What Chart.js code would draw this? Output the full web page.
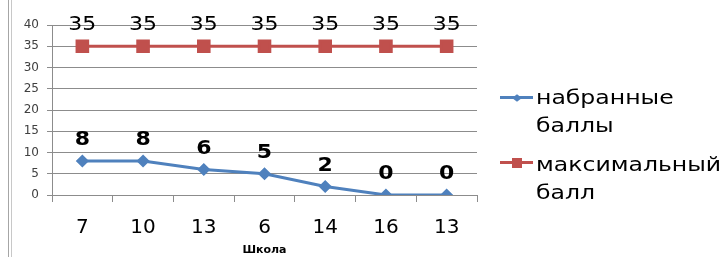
<!DOCTYPE html>
<html>
<head>
<meta charset="utf-8">
<script src="https://cdn.jsdelivr.net/npm/chart.js@4/dist/chart.umd.min.js"></script>
<style>
  html, body { margin: 0; padding: 0; background: #fff; }
  #wrap { position: relative; width: 725px; height: 257px; overflow: hidden; }
  #frame { position: absolute; left: 8px; top: 0; width: 2px; height: 257px;
           border-left: 1px solid #a6a6a6; border-right: 1px solid #c8c8c8; }
  #legend { position: absolute; left: 500px; top: 0; font-family: "DejaVu Sans", sans-serif; }
  .item { position: absolute; left: 0; width: 230px; }
  .mark { position: absolute; left: 0; width: 33px; height: 3px; }
  .mark .dot { position: absolute; left: 50%; top: 50%; }
  .txt { position: absolute; left: 36px; top: 0; width: 150px; font-size: 19px; line-height: 28px;
         color: #000; transform: scaleX(1.24); transform-origin: left top; }
</style>
</head>
<body>
<div id="wrap">
  <div id="frame"></div>
  <canvas id="chart" width="725" height="257"></canvas>
  <div id="legend"></div>
</div>
<script>
// Schools on the x axis and the two series.
const schools = ['7', '10', '13', '6', '14', '16', '13'];
const scored = [8, 8, 6, 5, 2, 0, 0];
const maxScore = [35, 35, 35, 35, 35, 35, 35];
const seriesNames = ['набранные баллы', 'максимальный балл'];
const axisTitle = 'Школа';

const BLUE = '#4f81bd';
const RED = '#c0504d';
const GRID = '#8c8c8c';

// Draws the value above each point (bold for scored, regular for max).
const valueLabels = {
  id: 'valueLabels',
  afterDatasetsDraw(chart) {
    const ctx = chart.ctx;
    chart.data.datasets.forEach((ds, i) => {
      const meta = chart.getDatasetMeta(i);
      meta.data.forEach((pt, j) => {
        ctx.save();
        ctx.font = (ds.labelBold ? 'bold ' : '') + '20px "DejaVu Sans"';
        ctx.fillStyle = '#000';
        ctx.textAlign = 'center';
        ctx.textBaseline = 'alphabetic';
        ctx.translate(pt.x, pt.y - 16);
        ctx.scale(1.1, 1);
        ctx.fillText(String(ds.data[j]), 0, 0);
        ctx.restore();
      });
    });
  }
};

const chart = new Chart(document.getElementById('chart'), {
  type: 'line',
  data: {
    labels: schools,
    datasets: [
      { label: seriesNames[0], data: scored, borderColor: BLUE, backgroundColor: BLUE, borderWidth: 3,
        pointStyle: 'rectRot', pointRadius: 4.5, pointHoverRadius: 4.5, labelBold: true },
      { label: seriesNames[1], data: maxScore, borderColor: RED, backgroundColor: RED, borderWidth: 3,
        pointStyle: 'rect', pointRadius: 7.5, pointHoverRadius: 7.5, labelBold: false },
    ]
  },
  options: {
    responsive: false,
    animation: false,
    layout: { padding: { top: 25, right: 248, left: 0, bottom: 0 } },
    plugins: { legend: { display: false }, tooltip: { enabled: false } },
    scales: {
      x: {
        offset: true,
        afterFit: s => { s.height = 62; },
        grid: { drawOnChartArea: false, offset: true, tickLength: 7, color: GRID },
        border: { color: GRID },
        ticks: { font: { family: 'DejaVu Sans', size: 20 }, color: '#000', padding: 14, maxRotation: 0 },
        title: { display: true, text: axisTitle, color: '#000', padding: 0,
                 font: { family: 'DejaVu Sans', size: 11, weight: 'bold' } }
      },
      y: {
        min: 0, max: 40,
        afterFit: s => { s.width = 52; },
        grid: { color: GRID, tickLength: 5 },
        border: { color: GRID },
        ticks: { stepSize: 5, font: { family: 'DejaVu Sans', size: 12 }, color: '#404040', padding: 8 }
      }
    }
  },
  plugins: [valueLabels]
});

// Legend on the right, built from the datasets.
const legendTops = [83, 150];
const legend = document.getElementById('legend');
chart.data.datasets.forEach((ds, i) => {
  const item = document.createElement('div');
  item.className = 'item';
  item.style.top = legendTops[i] + 'px';
  const mark = document.createElement('div');
  mark.className = 'mark';
  mark.style.background = ds.borderColor;
  mark.style.top = (i === 0 ? 13 : 11) + 'px';
  const dot = document.createElement('div');
  dot.className = 'dot';
  dot.style.background = ds.borderColor;
  if (ds.pointStyle === 'rect') {
    dot.style.width = '10px'; dot.style.height = '10px';
    dot.style.transform = 'translate(-50%, -50%)';
  } else {
    dot.style.width = '7px'; dot.style.height = '7px';
    dot.style.transform = 'translate(-50%, -50%) scaleY(0.75) rotate(45deg)';
  }
  mark.appendChild(dot);
  const txt = document.createElement('div');
  txt.className = 'txt';
  txt.textContent = ds.label;
  item.appendChild(mark);
  item.appendChild(txt);
  legend.appendChild(item);
});
</script>
</body>
</html>
